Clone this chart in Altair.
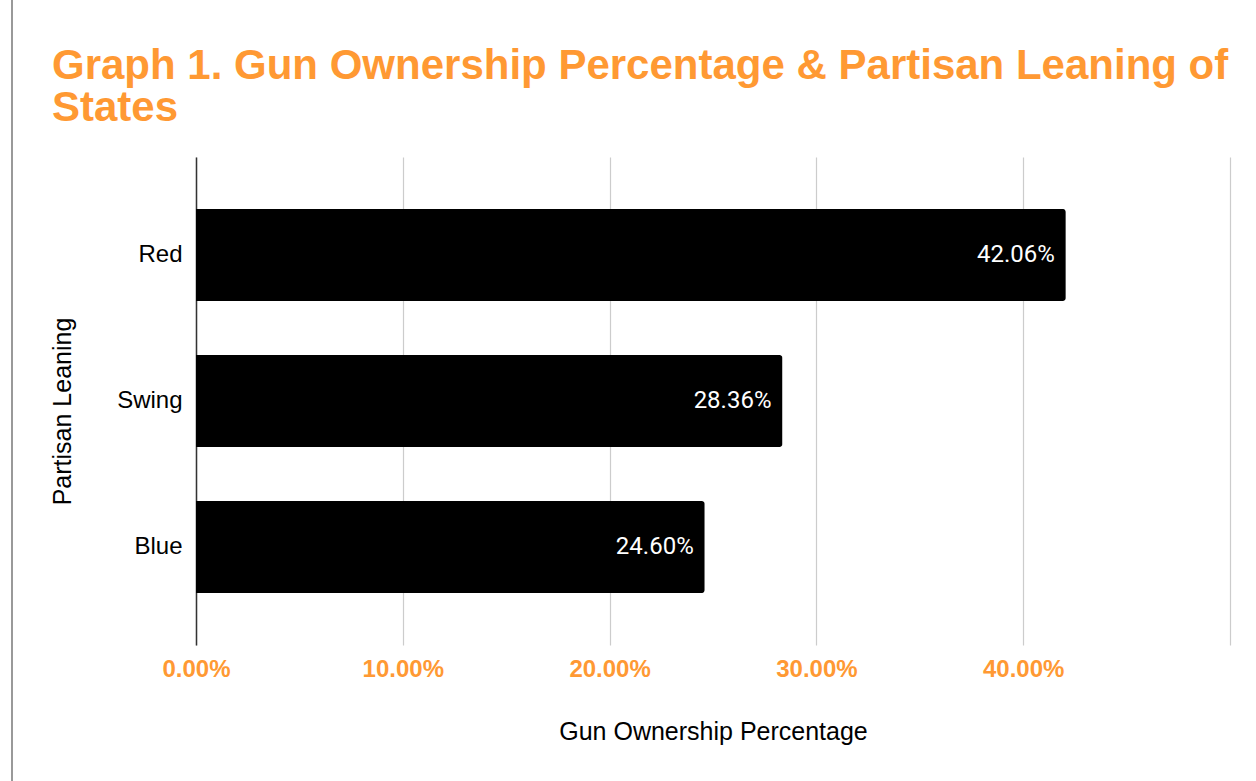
import altair as alt
import pandas as pd

categories = ["Red", "Swing", "Blue"]
values = [0.4206, 0.2836, 0.2460]
tick_values = [0.0, 0.1, 0.2, 0.3, 0.4, 0.5]

df = pd.DataFrame({"lean": categories, "pct": values})

ORANGE = "#FF9933"

base = alt.Chart(df)

bars = base.mark_bar(color="#000000", cornerRadiusEnd=3).encode(
    x=alt.X(
        "pct:Q",
        scale=alt.Scale(domain=[0, 0.5], nice=False),
        axis=alt.Axis(
            values=tick_values,
            labelExpr="datum.value >= 0.5 ? '' : format(datum.value, '.2%')",
            labelColor=ORANGE,
            labelFont="Liberation Sans",
            labelFontWeight="bold",
            labelFontSize=24,
            labelPadding=12,
            labelFlush=False,
            ticks=False,
            domain=False,
            grid=True,
            gridColor="#cccccc",
            gridWidth=1.2,
            title="Gun Ownership Percentage",
            titleFont="Liberation Sans",
            titleFontSize=25,
            titleFontWeight="normal",
            titleColor="#000000",
            titlePadding=38,
        ),
    ),
    y=alt.Y(
        "lean:N",
        sort=categories,
        scale=alt.Scale(paddingInner=0.37, paddingOuter=0.356),
        axis=alt.Axis(
            labelFont="Liberation Sans",
            labelFontSize=24,
            labelColor="#000000",
            labelPadding=14,
            ticks=False,
            domain=True,
            domainColor="#333333",
            domainWidth=1.5,
            grid=False,
            title="Partisan Leaning",
            titleFont="Liberation Sans",
            titleFontSize=25,
            titleFontWeight="normal",
            titleColor="#000000",
            titlePadding=41,
            titleY=254,
        ),
    ),
)

labels = base.mark_text(
    align="right", baseline="middle", dx=-11, color="#ffffff",
    font="Roboto", fontSize=24,
).encode(
    x="pct:Q",
    y=alt.Y("lean:N", sort=categories),
    text=alt.Text("pct:Q", format=".2%"),
)

border = alt.Chart(df).mark_rule(color="#999999", strokeWidth=2).encode(
    x=alt.value(-184), y=alt.value(-157), y2=alt.value(624)
)

chart = alt.layer(bars, labels, border).properties(
    width=1034,
    height=488,
    autosize=alt.AutoSizeParams(type="none"),
    padding={"left": 196, "top": 157, "right": 26, "bottom": 136},
    title=alt.Title(
        text=["Graph 1. Gun Ownership Percentage & Partisan Leaning of", "States"],
        anchor="start",
        frame="group",
        dx=-144,
        dy=141,
        font="Liberation Sans",
        fontSize=42,
        fontWeight="bold",
        color=ORANGE,
        lineHeight=42,
        offset=10,
    ),
).configure_view(stroke=None)

chart.save("out.html", embed_options={"renderer": "svg", "actions": False})
